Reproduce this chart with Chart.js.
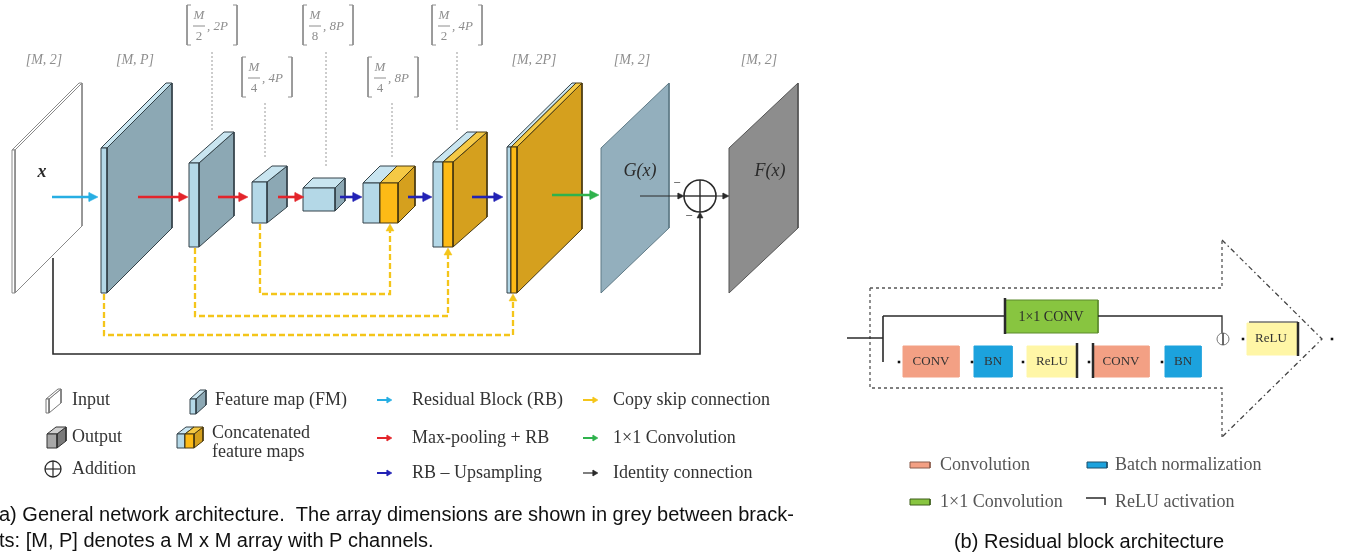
<!DOCTYPE html>
<html>
<head>
<meta charset="utf-8">
<title>Network architecture</title>
<script src="https://cdn.jsdelivr.net/npm/chart.js@4/dist/chart.umd.min.js"></script>
<style>
  html, body { margin: 0; padding: 0; background: #fff; overflow: hidden; }
</style>
</head>
<body>
<canvas id="archChart" width="1352" height="557"></canvas>
<script>
// ---- textos y valores del diagrama ----
const dimNum = ['M', 'M', 'M', 'M', 'M', 'M', 'M', 'M', 'M', 'M'];
const dimDen = ['', '', '2', '4', '8', '4', '2', '', '', ''];
const dimCh = ['2', 'P', '2P', '4P', '8P', '8P', '4P', '2P', '2', '2'];
const mapNames = ['x', 'G(x)', 'F(x)'];
const legendShapes = ['Input', 'Output', 'Addition', 'Feature map (FM)', 'Concatenated', 'feature maps'];
const legendArrows = ['Residual Block (RB)', 'Max-pooling + RB', 'RB \u2013 Upsampling',
    'Copy skip connection', '1\u00d71 Convolution', 'Identity connection'];
const blockOps = ['CONV', 'BN', 'ReLU', 'CONV', 'BN'];
const shortcutOp = '1\u00d71 CONV';
const outOp = 'ReLU';
const legendBlock = ['Convolution', 'Batch normalization', '1\u00d71 Convolution', 'ReLU activation'];
const captionA = ['a) General network architecture.  The array dimensions are shown in grey between brack-',
    'ts: [M, P] denotes a M x M array with P channels.'];
const captionB = '(b) Residual block architecture';

// ---- posiciones (px del lienzo) ----
const W = 1352, H = 557;
const dimPos = [[44, 60], [135, 60], [212, 25], [267, 77], [328, 25], [393, 77], [457, 25], [534, 60], [632, 60], [759, 60]];
const guides = [[212, 52, 132], [265, 103, 158], [326, 52, 168], [392, 103, 158], [457, 52, 132]];
// x0, ancho, arriba, abajo, dx, dy, tipo
const mapBoxes = [
    [12, 3, 150, 293, 67, 67, 'input'],
    [101, 6, 148, 293, 65, 65, 'fm'],
    [189, 10, 163, 247, 35, 31, 'fm'],
    [252, 15, 182, 223, 20, 16, 'fm'],
    [303, 32, 188, 211, 10, 10, 'fm'],
    [363, 17, 183, 223, 17, 17, 'fm'], [380, 18, 183, 223, 17, 17, 'or'],
    [433, 10, 162, 247, 34, 30, 'fm'], [443, 10, 162, 247, 34, 30, 'or'],
    [507, 4, 147, 293, 65, 64, 'fm'], [511, 6, 147, 293, 65, 64, 'or']
];
const flatMaps = [[601, 148, 293, 68, 65, 'g'], [729, 148, 293, 69, 65, 'f']];
const flowArrows = [[52, 98, 197, 'cyan'], [138, 188, 197, 'red'], [218, 248, 197, 'red'], [278, 304, 197, 'red'],
    [340, 362, 197, 'blue'], [408, 432, 197, 'blue'], [472, 503, 197, 'blue'], [552, 599, 195, 'green']];
const skips = [[260, 224, 294, 390], [195, 248, 316, 448], [104, 294, 335, 513]];
const opBoxes = [[903, 959], [974, 1012], [1027, 1077], [1093, 1149], [1165, 1201]];
const opKinds = ['conv', 'bn', 'relu', 'conv', 'bn'];
const opDots = [899, 972, 1023, 1089, 1162];

const C = {
    fmLight: '#B4D8E7', fmSide: '#8CA8B4', fmTop: '#C9E5F0', fmEdge: '#34434a',
    orFront: '#FDBA16', orSide: '#D5A01E', orTop: '#F5C945', orEdge: '#4A3A10',
    g: '#93AFBD', f: '#8D8D8D',
    cyan: '#27AEE3', red: '#E3242B', blue: '#2222B5', green: '#2FB24C', yellow: '#F4C51A',
    ink: '#2A2A2A', grey: '#8E8E8E',
    conv: '#F3A084', bn: '#1CA2DD', relu: '#FFF6A6', one: '#88C540'
};
const serif = '"Liberation Serif", "DejaVu Serif", serif';
const sans = '"Liberation Sans", "DejaVu Sans", sans-serif';

const datasets = [];
const texts = [];

function P(arr) { return arr.map(p => ({ x: p[0], y: p[1] })); }
function poly(arr, fillC, edge, bw) {
    datasets.push({ data: P(arr.concat([arr[0]])), fill: 'shape', backgroundColor: fillC,
        borderColor: edge || fillC, borderWidth: bw === undefined ? 1 : bw, borderJoinStyle: 'miter' });
}
function path(arr, color, bw, dash) {
    datasets.push({ data: P(arr), fill: false, borderColor: color, borderWidth: bw, borderDash: dash || [] });
}
function head(x, y, dir, color, len, half) {
    const h = {
        r: [[x, y], [x - len, y - half], [x - len, y + half]],
        u: [[x, y], [x - half, y + len], [x + half, y + len]]
    };
    poly(h[dir], color, color, 0.5);
}
function arrowR(x1, x2, y, color, bw, len, half) {
    path([[x1, y], [x2 - len + 1, y]], color, bw);
    head(x2, y, 'r', color, len, half);
}
function dot(x, y, r, style, fillC, edge, bw) {
    datasets.push({ data: [{ x: x, y: y }], showLine: false, pointStyle: style, pointRadius: r,
        pointBackgroundColor: fillC, pointBorderColor: edge, pointBorderWidth: bw });
}
function text(t, x, y, font, color, align) {
    texts.push({ t: t, x: x, y: y, font: font, color: color || C.ink, align: align || 'center' });
}
function slab(x0, w, yt, yb, dx, dy, front, side, top, edge) {
    poly([[x0 + w, yt], [x0 + w + dx, yt - dy], [x0 + w + dx, yb - dy], [x0 + w, yb]], side, edge);
    poly([[x0, yt], [x0 + dx, yt - dy], [x0 + w + dx, yt - dy], [x0 + w, yt]], top, edge);
    poly([[x0, yt], [x0 + w, yt], [x0 + w, yb], [x0, yb]], front, edge);
}
function slabKind(b) {
    const [x0, w, yt, yb, dx, dy, kind] = b;
    if (kind === 'input') slab(x0, w, yt, yb, dx, dy, '#fff', '#fff', '#fff', '#8a8a8a');
    else if (kind === 'fm') slab(x0, w, yt, yb, dx, dy, C.fmLight, C.fmSide, C.fmTop, C.fmEdge);
    else slab(x0, w, yt, yb, dx, dy, C.orFront, C.orSide, C.orTop, C.orEdge);
}

// ---- (a) arquitectura general ----
mapBoxes.forEach(slabKind);
flatMaps.forEach(m => {
    const [x0, yt, yb, dx, dy, k] = m;
    poly([[x0, yt], [x0 + dx, yt - dy], [x0 + dx, yb - dy], [x0, yb]], C[k], k === 'g' ? '#5f7a86' : '#555', 1);
});
text(mapNames[0], 42, 172, 'bold italic 18px ' + serif);
text(mapNames[1], 640, 171, 'italic 18px ' + serif);
text(mapNames[2], 770, 171, 'italic 18px ' + serif);

flowArrows.forEach(a => arrowR(a[0], a[1], a[2], C[a[3]], 2.6, 9, 4.5));

// suma y conexion identidad
arrowR(640, 684, 196, C.ink, 1, 6, 3);
path([[716, 196], [723, 196]], C.ink, 1);
head(729, 196, 'r', C.ink, 6, 3);
dot(700, 196, 16, 'circle', 'rgba(0,0,0,0)', C.ink, 1.6);
path([[700, 180], [700, 212]], C.ink, 1.4);
path([[684, 196], [716, 196]], C.ink, 1.4);
text('\u2212', 677, 184, '13px ' + serif);
text('\u2212', 689, 217, '13px ' + serif);
path([[53, 258], [53, 354], [700, 354], [700, 218]], C.ink, 1.6);
head(700, 212, 'u', C.ink, 6, 3);

skips.forEach(s => {
    const [x1, yt, yl, x2] = s;
    path([[x1, yt], [x1, yl], [x2, yl], [x2, yt + 7]], C.yellow, 2.3, [6, 3]);
    head(x2, yt, 'u', C.yellow, 7, 4);
});

guides.forEach(g => path([[g[0], g[1]], [g[0], g[2]]], '#9a9a9a', 1, [2, 2]));

dimPos.forEach((p, i) => {
    const [cx, cy] = p;
    if (!dimDen[i]) {
        text('[' + dimNum[i] + ', ' + dimCh[i] + ']', cx, cy, 'italic 14px ' + serif, C.grey);
        return;
    }
    path([[cx - 21, cy - 20], [cx - 25, cy - 20], [cx - 25, cy + 20], [cx - 21, cy + 20]], C.grey, 1);
    path([[cx + 21, cy - 20], [cx + 25, cy - 20], [cx + 25, cy + 20], [cx + 21, cy + 20]], C.grey, 1);
    path([[cx - 19, cy + 1], [cx - 7, cy + 1]], C.grey, 1);
    text(dimNum[i], cx - 13, cy - 9, 'italic 13px ' + serif, C.grey);
    text(dimDen[i], cx - 13, cy + 12, '13px ' + serif, C.grey);
    text(', ' + dimCh[i], cx - 5, cy + 2, 'italic 13px ' + serif, C.grey, 'left');
});

// leyenda (a)
slab(46, 3, 399, 413, 12, 10, '#fff', '#fff', '#fff', '#777');
slab(47, 10, 434, 448, 9, 7, '#a8a8a8', '#7a7a7a', '#d0d0d0', '#333');
dot(53, 469, 8, 'circle', 'rgba(0,0,0,0)', C.ink, 1.3);
path([[45, 469], [61, 469]], C.ink, 1.2);
path([[53, 461], [53, 477]], C.ink, 1.2);
slab(190, 6, 399, 414, 10, 9, C.fmLight, C.fmSide, C.fmTop, C.fmEdge);
slab(177, 8, 434, 448, 9, 7, C.fmLight, C.fmSide, C.fmTop, C.fmEdge);
slab(185, 9, 434, 448, 9, 7, C.orFront, C.orSide, C.orTop, C.orEdge);
const legFont = '18px ' + serif;
text(legendShapes[0], 72, 400, legFont, '#333', 'left');
text(legendShapes[1], 72, 437, legFont, '#333', 'left');
text(legendShapes[2], 72, 469, legFont, '#333', 'left');
text(legendShapes[3], 215, 400, legFont, '#333', 'left');
text(legendShapes[4], 212, 433, legFont, '#333', 'left');
text(legendShapes[5], 212, 452, legFont, '#333', 'left');
const legArrowColors = [C.cyan, C.red, C.blue, C.yellow, C.green, C.ink];
const legRows = [400, 438, 473];
legendArrows.forEach((t, i) => {
    const x0 = i < 3 ? 377 : 583, y = legRows[i % 3];
    arrowR(x0, x0 + 15, y, legArrowColors[i], i === 5 ? 1.2 : 2, 5, 3);
    text(t, i < 3 ? 412 : 613, y, legFont, '#333', 'left');
});

// ---- (b) bloque residual ----
path([[870, 288], [1222, 288], [1222, 240]], '#555', 1.3, [3, 3]);
path([[870, 288], [870, 388], [1222, 388], [1222, 437]], '#555', 1.3, [3, 3]);
path([[1222, 240], [1322, 339], [1222, 437]], '#444', 1.3, [5, 3, 1.5, 3]);

path([[847, 338], [883, 338]], C.ink, 1.3);
path([[883, 316], [883, 362]], C.ink, 1.6);
path([[883, 316], [1005, 316]], C.ink, 1.3);
poly([[1005, 300], [1098, 300], [1098, 333], [1005, 333]], C.one, '#5d8a2c', 1);
path([[1005, 298], [1005, 334]], C.ink, 2.5);
path([[1098, 316], [1222, 316], [1222, 333]], C.ink, 1.3);
text(shortcutOp, 1051, 317, '14px ' + serif, '#2a2a2a');
dot(1223, 339, 6, 'circle', 'rgba(0,0,0,0)', '#777', 1);
path([[1223, 333], [1223, 345]], '#555', 1);

opBoxes.forEach((b, i) => {
    poly([[b[0], 346], [b[1], 346], [b[1], 377], [b[0], 377]], C[opKinds[i]], C[opKinds[i]], 1);
    dot(opDots[i], 362, 1.8, 'rect', '#111', '#111', 0);
    text(blockOps[i], (b[0] + b[1]) / 2, 362, '13px ' + serif, '#333');
});
path([[1077, 343], [1077, 378]], C.ink, 2.5);
path([[1093, 343], [1093, 378]], C.ink, 2.5);

dot(1243, 339, 1.8, 'rect', '#111', '#111', 0);
poly([[1247, 323], [1297, 323], [1297, 355], [1247, 355]], C.relu, C.relu, 1);
path([[1249, 322], [1298, 322]], C.ink, 1);
path([[1298, 322], [1298, 356]], C.ink, 2.5);
text(outOp, 1271, 339, '13px ' + serif, '#333');
dot(1332, 339, 1.8, 'rect', '#111', '#111', 0);

// leyenda (b)
poly([[910, 462], [930, 462], [930, 468], [910, 468]], C.conv, '#8a5c4c', 1);
poly([[1087, 462], [1107, 462], [1107, 468], [1087, 468]], C.bn, '#1d4f6a', 1);
poly([[910, 499], [930, 499], [930, 505], [910, 505]], C.one, '#3f5f1c', 1);
path([[1086, 498], [1105, 498], [1105, 505]], C.ink, 1.5);
text(legendBlock[0], 940, 465, legFont, '#555', 'left');
text(legendBlock[1], 1115, 465, legFont, '#555', 'left');
text(legendBlock[2], 940, 502, legFont, '#555', 'left');
text(legendBlock[3], 1115, 502, legFont, '#555', 'left');

// orden de dibujo: el primero queda abajo
datasets.forEach((d, i) => { d.order = datasets.length - i; });

const textPlugin = {
    id: 'diagramText',
    afterDatasetsDraw(chart) {
        const { ctx, scales: { x, y } } = chart;
        ctx.save();
        ctx.textBaseline = 'middle';
        texts.forEach(l => {
            ctx.font = l.font;
            ctx.fillStyle = l.color;
            ctx.textAlign = l.align;
            ctx.fillText(l.t, x.getPixelForValue(l.x), y.getPixelForValue(l.y));
        });
        // pies de figura, ajustados al ancho del original
        ctx.font = '20px ' + sans;
        ctx.fillStyle = '#111';
        ctx.textAlign = 'left';
        const k = Math.min(1, 815 / ctx.measureText(captionA[0]).width);
        captionA.forEach((t, i) => {
            ctx.fillText(t, x.getPixelForValue(-1), y.getPixelForValue(i ? 541 : 515), ctx.measureText(t).width * k);
        });
        ctx.textAlign = 'center';
        ctx.fillText(captionB, x.getPixelForValue(1089), y.getPixelForValue(542), ctx.measureText(captionB).width * k);
        ctx.restore();
    }
};

new Chart(document.getElementById('archChart'), {
    type: 'line',
    data: { datasets: datasets },
    options: {
        responsive: false,
        animation: false,
        devicePixelRatio: 1,
        events: [],
        layout: { padding: 0, autoPadding: false },
        elements: { line: { tension: 0 }, point: { radius: 0, hoverRadius: 0 } },
        scales: {
            x: { type: 'linear', min: 0, max: W, display: false },
            y: { type: 'linear', min: 0, max: H, reverse: true, display: false }
        },
        plugins: { legend: { display: false }, tooltip: { enabled: false }, colors: { enabled: false } }
    },
    plugins: [textPlugin]
});
</script>
</body>
</html>
